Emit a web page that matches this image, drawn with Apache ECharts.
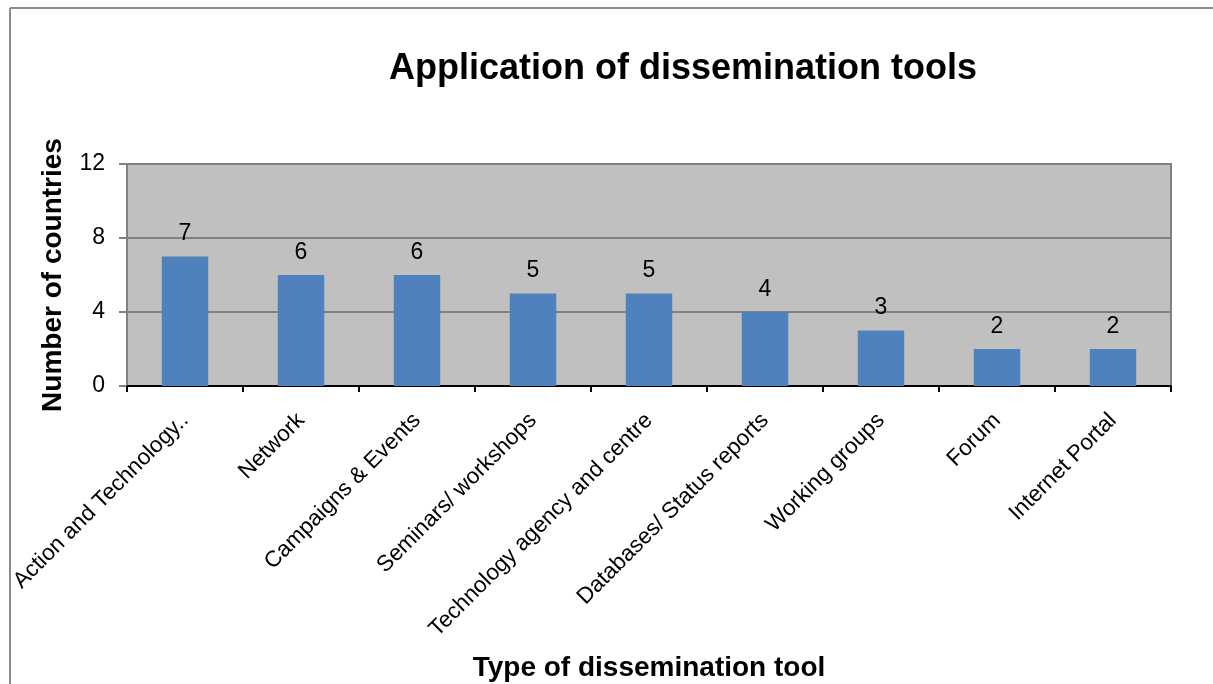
<!DOCTYPE html>
<html>
<head>
<meta charset="utf-8">
<style>
  html, body { margin: 0; padding: 0; background: #ffffff; }
  #chart { width: 1213px; height: 684px; }
</style>
<script src="https://cdn.jsdelivr.net/npm/echarts@6/dist/echarts.min.js"></script>
</head>
<body>
<div id="chart"></div>
<script>
// Dissemination tools and how many countries use each one
const categories = [
  'Action and Technology..',
  'Network',
  'Campaigns & Events',
  'Seminars/ workshops',
  'Technology agency and centre',
  'Databases/ Status reports',
  'Working groups',
  'Forum',
  'Internet Portal'
];
const countries = [7, 6, 6, 5, 5, 4, 3, 2, 2];
const yTicks = [0, 4, 8, 12];

const FONT = '"Liberation Sans", Arial, sans-serif';
const chart = echarts.init(document.getElementById('chart'), null, { renderer: 'canvas' });

chart.setOption({
  animation: false,
  backgroundColor: '#ffffff',
  title: {
    text: 'Application of dissemination tools',
    left: 678,
    top: 46,
    textAlign: 'center',
    textStyle: { fontFamily: FONT, fontWeight: 'bold', fontSize: 36, color: '#000000' }
  },
  graphic: [
    // outer frame (left and top edges)
    { type: 'line', shape: { x1: 10, y1: 8, x2: 10, y2: 684 }, style: { stroke: '#8c8c8c', lineWidth: 2 } },
    { type: 'line', shape: { x1: 10, y1: 8, x2: 1213, y2: 8 }, style: { stroke: '#8c8c8c', lineWidth: 2 } }
  ],
  grid: {
    left: 127,
    right: 42,
    top: 164,
    bottom: 298,
    outerBoundsMode: 'none',
    containLabel: false,
    show: true,
    backgroundColor: '#c0c0c0',
    borderColor: '#808080',
    borderWidth: 2
  },
  xAxis: {
    type: 'category',
    data: categories,
    boundaryGap: true,
    name: 'Type of dissemination tool',
    nameLocation: 'middle',
    nameGap: 268,
    nameTextStyle: { fontFamily: FONT, fontWeight: 'bold', fontSize: 28, color: '#000000' },
    axisLine: { show: true, lineStyle: { color: '#000000', width: 2 } },
    axisTick: { show: true, length: 6, alignWithLabel: false, lineStyle: { color: '#000000', width: 2 } },
    axisLabel: {
      interval: 0,
      rotate: 45,
      margin: 31,
      fontFamily: FONT,
      fontSize: 22.5,
      color: '#000000'
    },
    splitLine: { show: false }
  },
  yAxis: {
    type: 'value',
    min: yTicks[0],
    max: yTicks[yTicks.length - 1],
    interval: yTicks[1] - yTicks[0],
    name: 'Number of countries',
    nameLocation: 'middle',
    nameGap: 60,
    nameTextStyle: { fontFamily: FONT, fontWeight: 'bold', fontSize: 28, color: '#000000' },
    axisLine: { show: true, lineStyle: { color: '#808080', width: 2 } },
    axisTick: { show: true, length: 8, lineStyle: { color: '#808080', width: 2 } },
    axisLabel: { margin: 22, fontFamily: FONT, fontSize: 23, color: '#000000' },
    splitLine: { show: true, lineStyle: { color: '#808080', width: 2 } }
  },
  series: [{
    type: 'bar',
    data: countries,
    barWidth: '40%',
    itemStyle: { color: '#4f81bd' },
    label: {
      show: true,
      position: 'top',
      distance: 11,
      fontFamily: FONT,
      fontSize: 23,
      color: '#000000'
    }
  }]
});
</script>
</body>
</html>
